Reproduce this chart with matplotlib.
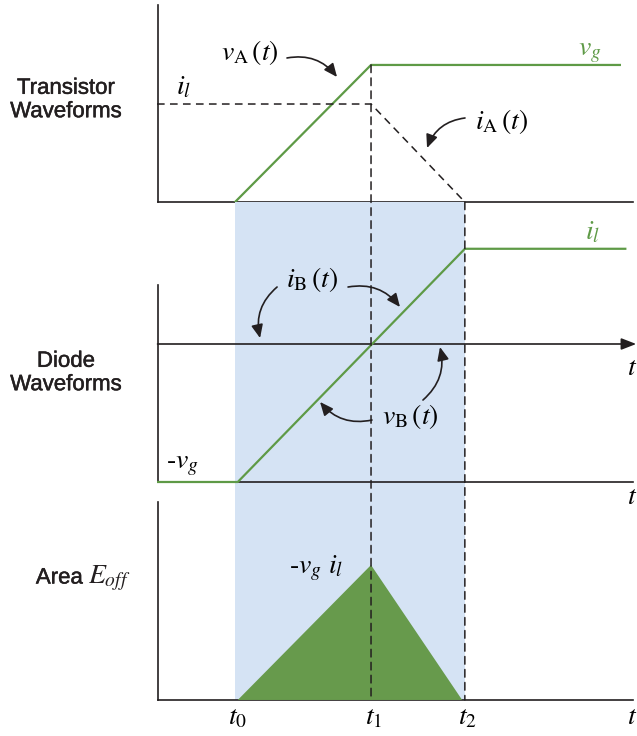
import matplotlib
matplotlib.use("Agg")
import matplotlib.pyplot as plt
from matplotlib.patches import ConnectionPatch
import matplotlib.patheffects as pe

plt.rcParams["mathtext.fontset"] = "stix"
plt.rcParams["font.family"] = "STIXGeneral"

# instantes de conmutacion
t_marks = [0.0, 1.0, 1.69]
t_labels = ["$t_0$", "$t_1$", "$t_2$"]

# transistor: tension y corriente
vA_t = [0.0, 1.0, 2.83]
vA = [0.0, 1.0, 1.0]
iA_t = [-0.574, 1.0, 1.69]
iA = [0.715, 0.715, 0.0]

# diodo: tension / corriente
vB_t = [-0.574, 0.02, 1.69, 2.87]
vB = [-1.0, -1.0, 0.69, 0.69]

# potencia disipada (area = E_off)
p_t = [0.02, 1.0, 1.67]
p = [0.0, 1.0, 0.0]

GREEN = "#5e9a46"
FILL = "#679a4c"
BLUE = "#d5e3f4"
INK = "#231f20"

W, H = 637, 736
fig = plt.figure(figsize=(W / 100, H / 100), dpi=100)


def pix_axes(top, bottom):
    return fig.add_axes([157 / W, 1 - bottom / H, (W - 157) / W, (bottom - top) / H])


ax1 = pix_axes(0, 202)
ax2 = pix_axes(202, 490)
ax3 = pix_axes(490, 736)
ax1.set_ylim(0, 1.474)
ax2.set_ylim(-1.058, 1.029)
ax3.set_ylim(-0.267, 1.556)
x_left, x_right = -0.57, 2.93
for ax in (ax1, ax2, ax3):
    ax.set_xlim(-0.574, 2.956)
    ax.axis("off")

# zona sombreada t0..t2
ax2.axvspan(t_marks[0], t_marks[2], color=BLUE, lw=0, zorder=0)
ax3.fill_between([t_marks[0], t_marks[2]], 0, 1.556, color=BLUE, lw=0, zorder=0)

# ejes dibujados
ax1.plot([x_left, x_left], [0, 1.438], color=INK, lw=1.2, clip_on=False)
ax1.plot([x_left, x_right], [0, 0], color=INK, lw=1.2, clip_on=False)
ax2.plot([x_left, x_left], [-1, 0.428], color=INK, lw=1.2, clip_on=False)
ax2.plot([x_left, x_right], [-1, -1], color=INK, lw=1.2, clip_on=False)
ax2.annotate("", xy=(2.95, 0), xytext=(x_left, 0),
             arrowprops=dict(arrowstyle="-|>,head_length=0.9,head_width=0.35",
                             color=INK, lw=1.2, shrinkA=0, shrinkB=0),
             annotation_clip=False)
ax3.plot([x_left, x_left], [0, 1.467], color=INK, lw=1.2, clip_on=False)
ax3.plot([x_left, x_right], [0, 0], color=INK, lw=1.2, clip_on=False)

# formas de onda
ax1.plot(vA_t, vA, color=GREEN, lw=1.6, zorder=3)
ax1.plot(iA_t, iA, color=INK, lw=1.1, ls=(0, (5, 3.5)), zorder=3)
ax2.plot(vB_t, vB, color=GREEN, lw=1.6, zorder=3)
ax3.fill(p_t, p, color=FILL, lw=0, zorder=2)

# lineas verticales discontinuas
for ax_from, y_from, tm in ((ax1, 1.0, t_marks[1]), (ax1, 0.0, t_marks[2])):
    con = ConnectionPatch(xyA=(tm, y_from), coordsA=ax_from.transData,
                          xyB=(tm, 0), coordsB=ax3.transData,
                          color=INK, lw=1.1, ls=(0, (5, 3.5)), zorder=4)
    fig.add_artist(con)

# textos
fs = 20
ax1.text(0.11, 1.088, r"$v_{\mathrm{A}}\,(t)$", fontsize=fs, ha="center", va="center")
ax1.text(2.61, 1.088, "$v_g$", fontsize=fs, color=GREEN, ha="center", va="center")
ax1.text(-0.382, 0.832, "$i_l$", fontsize=fs, ha="center", va="center")
ax1.text(1.963, 0.584, r"$i_{\mathrm{A}}\,(t)$", fontsize=fs, ha="center", va="center")
ax2.text(0.566, 0.471, r"$i_{\mathrm{B}}\,(t)$", fontsize=fs, ha="center", va="center")
ax2.text(1.287, -0.529, r"$v_{\mathrm{B}}\,(t)$", fontsize=fs, ha="center", va="center")
ax2.text(2.632, 0.804, "$i_l$", fontsize=fs, color=GREEN, ha="center", va="center")
ax2.text(-0.39, -0.877, "-$v_g$", fontsize=fs, ha="center", va="center")
ax2.text(2.919, -0.174, "$t$", fontsize=fs, ha="center", va="center")
ax3.text(2.919, 1.504, "$t$", fontsize=fs, ha="center", va="center", clip_on=False)
ax3.text(0.596, 0.978, r"-$v_g\ i_l$", fontsize=fs, ha="center", va="center")
for tm, lab in zip(t_marks, t_labels):
    ax3.text(tm + 0.02, -0.133, lab, fontsize=fs, ha="center", va="center")
ax3.text(2.919, -0.133, "$t$", fontsize=fs, ha="center", va="center")

# flechas curvas
arrows = [
    (ax1, (0.382, 1.051), (0.75, 0.912), -0.3),
    (ax1, (1.691, 0.613), (1.412, 0.394), 0.3),
    (ax2, (0.309, 0.413), (0.184, 0.043), 0.3),
    (ax2, (0.831, 0.413), (1.213, 0.268), -0.3),
    (ax2, (1.007, -0.551), (0.625, -0.42), -0.3),
    (ax2, (1.382, -0.406), (1.507, -0.022), 0.3),
]
for ax, start, tip, rad in arrows:
    ax.annotate("", xy=tip, xytext=start,
                arrowprops=dict(arrowstyle="-|>,head_length=0.8,head_width=0.35",
                                connectionstyle="arc3,rad=%s" % rad,
                                color=INK, lw=1.2, shrinkA=0, shrinkB=0),
                annotation_clip=False)

# etiquetas de la izquierda
lab_kw = dict(fontsize=16, family="Liberation Sans", color=INK, va="center",
              linespacing=1.15,
              path_effects=[pe.withStroke(linewidth=0.35, foreground=INK)])
fig.text(66 / W, 1 - 100 / H, "Transistor\nWaveforms", ha="center", **lab_kw)
fig.text(66 / W, 1 - 373 / H, "Diode\nWaveforms", ha="center", **lab_kw)
fig.text(83 / W, 1 - 578 / H, "Area", ha="right", **lab_kw)
fig.text(88 / W, 1 - 578 / H, "$E_{off}$", fontsize=20, color=INK, ha="left", va="center")

fig.savefig("out.png", dpi=100)
